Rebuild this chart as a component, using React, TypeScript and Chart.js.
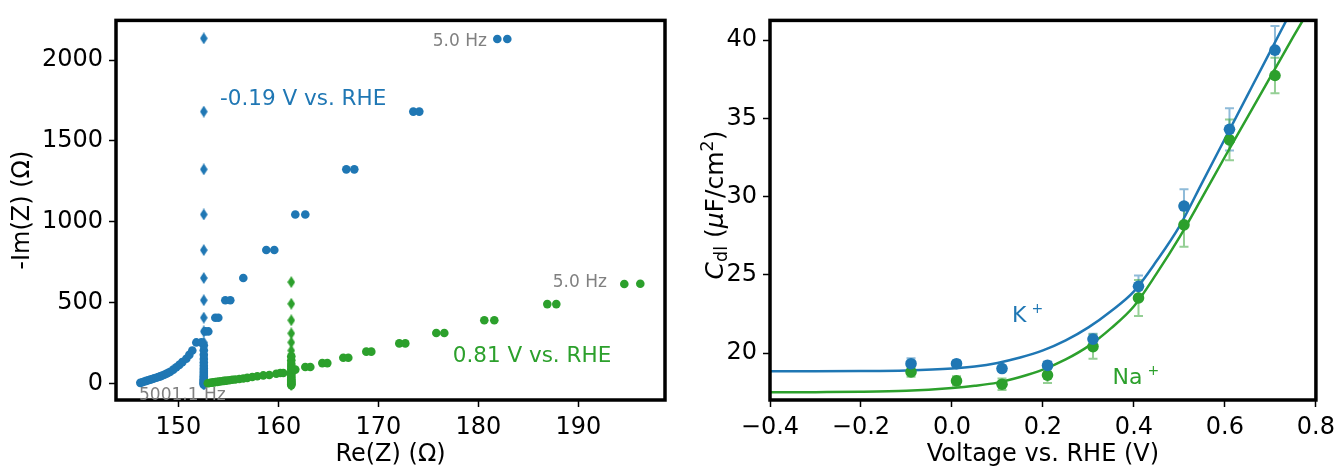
import { useEffect, useRef } from "react"
import { Chart, registerables } from "chart.js"

Chart.register(...registerables)

const BLUE = "#1f77b4"
const GREEN = "#2ca02c"
const GRAY = "#808080"
const FONT = "'DejaVu Sans', sans-serif"

// Nyquist data at -0.19 V vs. RHE
const blueRe = [146.2, 146.4, 146.6, 146.8, 147.0, 147.2, 147.4, 147.6, 147.8, 148.0, 148.2, 148.4, 148.6, 148.8, 149.0, 149.2, 149.5, 149.8, 150.1, 150.4, 150.8, 151.1, 151.4, 151.8, 152.3, 152.7, 153.0, 153.7, 154.0, 154.7, 155.2, 156.5, 158.8, 159.6, 161.7, 162.7, 166.8, 167.6, 173.5, 174.1, 181.9, 182.9]
const blueIm = [4, 8, 12, 16, 20, 24, 28, 32, 36, 40, 44, 49, 54, 60, 66, 73, 86, 100, 115, 132, 153, 177, 204, 254, 254, 322, 322, 407, 407, 515, 515, 652, 825, 825, 1045, 1045, 1324, 1324, 1681, 1681, 2130, 2130]
const blueColRe = 152.55
const blueColIm = [-8, -3, 2, 7, 13, 19, 26, 34, 43, 53, 65, 78, 93, 110, 130, 152, 178, 206, 236]
const blueDiaIm = [2134, 1681, 1324, 1045, 825, 652, 515, 407, 322, 254, 204, 163, 130, 104, 83, 66, 52, 40, 30, 21, 13, 6, 0, -6]

// Nyquist data at 0.81 V vs. RHE
const greenRe = [152.95, 153.1, 153.25, 153.4, 153.55, 153.7, 153.9, 154.1, 154.3, 154.55, 154.8, 155.1, 155.4, 155.7, 156.1, 156.5, 156.9, 157.4, 157.9, 158.5, 159.1, 159.8, 160.2, 160.5, 161.7, 162.7, 163.2, 164.4, 164.9, 166.5, 167.0, 168.8, 169.3, 172.1, 172.7, 175.8, 176.6, 180.6, 181.6, 186.9, 187.8, 194.6, 196.2]
const greenIm = [2, 3, 5, 6, 7, 9, 10, 12, 14, 16, 18, 20, 23, 25, 28, 31, 35, 40, 45, 50, 53, 60, 65, 65, 86, 102, 102, 126, 126, 159, 159, 197, 197, 248, 248, 312, 312, 391, 391, 491, 491, 615, 617]
const greenColRe = 161.3
const greenColIm = [-10, -5, 0, 6, 12, 19, 27, 36, 46, 57, 70, 85, 102, 121, 143, 168]
const greenDiaIm = [627, 493, 391, 310, 254, 204, 165, 135, 110, 90, 73, 58, 46, 35, 26, 18, 11, 5, 0, -5, -10]

const reTicks = [150, 160, 170, 180, 190]
const imTicks = [0, 500, 1000, 1500, 2000]

// double layer capacitance vs voltage
const voltages = [-0.09, 0.01, 0.11, 0.21, 0.31, 0.41, 0.51, 0.61, 0.71]
const cdlK = [19.33, 19.33, 19.02, 19.22, 20.9, 24.27, 29.4, 34.3, 39.36]
const errK = [0.35, 0.2, 0.15, 0.25, 0.35, 0.7, 1.08, 1.35, 1.55]
const cdlNa = [18.8, 18.23, 18.02, 18.6, 20.42, 23.53, 28.2, 33.63, 37.74]
const errNa = [0.3, 0.3, 0.37, 0.5, 0.77, 1.15, 1.4, 1.3, 1.13]

const fitV = [-0.4, -0.3, -0.2, -0.1, 0.0, 0.05, 0.1, 0.15, 0.2, 0.25, 0.3, 0.35, 0.4, 0.45, 0.5, 0.55, 0.6, 0.65, 0.7, 0.75, 0.78]
const fitK = [18.85, 18.85, 18.86, 18.9, 19.02, 19.15, 19.38, 19.72, 20.18, 20.82, 21.65, 22.7, 23.95, 25.9, 28.1, 30.9, 33.7, 36.5, 39.3, 42.1, 43.8]
const fitNa = [17.5, 17.51, 17.53, 17.6, 17.78, 17.92, 18.12, 18.48, 18.95, 19.6, 20.45, 21.6, 23.0, 25.1, 27.4, 29.95, 32.55, 35.1, 37.65, 40.2, 41.7]

const vTicks = [-0.4, -0.2, 0.0, 0.2, 0.4, 0.6, 0.8]
const cTicks = [20, 25, 30, 35, 40]

const zip = (xs: number[], ys: number[]) => xs.map((x, i) => ({ x, y: ys[i] }))
const column = (x: number, ys: number[]) => ys.map((y) => ({ x, y }))

function diamond(color: string) {
  const c = document.createElement("canvas")
  c.width = 8
  c.height = 12
  const g = c.getContext("2d")!
  g.fillStyle = color
  g.beginPath()
  g.moveTo(4, 0)
  g.lineTo(7.8, 6)
  g.lineTo(4, 12)
  g.lineTo(0.2, 6)
  g.closePath()
  g.fill()
  return c
}

type Seg = { t: string; size: number; italic?: boolean; dx?: number; dy?: number }

function fontOf(s: Seg) {
  return `${s.italic ? "italic " : ""}${s.size}px ${FONT}`
}

// draws mixed text (sub/superscripts) on a baseline
function drawSegs(ctx: CanvasRenderingContext2D, segs: Seg[], x0: number, y0: number, center: boolean) {
  let total = 0
  for (const s of segs) {
    ctx.font = fontOf(s)
    total += ctx.measureText(s.t).width + (s.dx || 0)
  }
  let x = center ? x0 - total / 2 : x0
  ctx.textAlign = "left"
  ctx.textBaseline = "alphabetic"
  for (const s of segs) {
    ctx.font = fontOf(s)
    x += s.dx || 0
    ctx.fillText(s.t, x, y0 + (s.dy || 0))
    x += ctx.measureText(s.t).width
  }
}

function axisStyle(tickList: number[], min: number, max: number, size: number, horizontal: boolean, fmt: (v: number) => string) {
  return {
    type: "linear" as const,
    min,
    max,
    afterBuildTicks: (s: any) => {
      s.ticks = tickList.map((v) => ({ value: v }))
    },
    afterFit: (s: any) => {
      if (horizontal) s.height = size
      else s.width = size
    },
    border: { display: false },
    grid: {
      drawOnChartArea: false,
      drawTicks: true,
      tickLength: 7,
      tickWidth: 1.5,
      tickColor: "#000",
    },
    ticks: {
      color: "#000",
      font: { family: FONT, size: 24 },
      padding: horizontal ? 6 : 6,
      maxRotation: 0,
      autoSkip: false,
      callback: (v: any) => fmt(Number(v)),
    },
  }
}

function frame(ctx: CanvasRenderingContext2D, chart: any) {
  const a = chart.chartArea
  ctx.save()
  ctx.strokeStyle = "#000"
  ctx.lineWidth = 3.5
  ctx.strokeRect(a.left, a.top, a.right - a.left, a.bottom - a.top)
  ctx.restore()
}

const nyquistDecor = {
  id: "nyquistDecor",
  afterDraw(chart: any) {
    const ctx = chart.ctx as CanvasRenderingContext2D
    const { x, y } = chart.scales
    const a = chart.chartArea
    frame(ctx, chart)
    ctx.save()
    const notes = [
      { t: "-0.19 V vs. RHE", re: 154.17, im: 1719, c: BLUE, s: 21.5 },
      { t: "0.81 V vs. RHE", re: 177.44, im: 136, c: GREEN, s: 21.5 },
      { t: "5.0 Hz", re: 175.44, im: 2088, c: GRAY, s: 17 },
      { t: "5.0 Hz", re: 187.44, im: 595, c: GRAY, s: 17 },
      { t: "5001.1 Hz", re: 146.07, im: -102, c: GRAY, s: 17 },
    ]
    for (const n of notes) {
      ctx.fillStyle = n.c
      drawSegs(ctx, [{ t: n.t, size: n.s }], x.getPixelForValue(n.re), y.getPixelForValue(n.im), false)
    }
    ctx.fillStyle = "#000"
    drawSegs(ctx, [{ t: "Re(Z) (Ω)", size: 24 }], (a.left + a.right) / 2, 461, true)
    ctx.translate(29, (a.top + a.bottom) / 2)
    ctx.rotate(-Math.PI / 2)
    drawSegs(ctx, [{ t: "-Im(Z) (Ω)", size: 24 }], 0, 0, true)
    ctx.restore()
  },
}

const errorBars = {
  id: "errorBars",
  beforeDatasetsDraw(chart: any) {
    const ctx = chart.ctx as CanvasRenderingContext2D
    const { x, y } = chart.scales
    const sets = [
      { ys: cdlK, err: errK, c: "rgba(31,119,180,0.5)" },
      { ys: cdlNa, err: errNa, c: "rgba(44,160,44,0.5)" },
    ]
    ctx.save()
    ctx.lineWidth = 2
    for (const s of sets) {
      ctx.strokeStyle = s.c
      voltages.forEach((v, i) => {
        const px = x.getPixelForValue(v)
        const lo = y.getPixelForValue(s.ys[i] - s.err[i])
        const hi = y.getPixelForValue(s.ys[i] + s.err[i])
        ctx.beginPath()
        ctx.moveTo(px, lo)
        ctx.lineTo(px, hi)
        ctx.moveTo(px - 4.5, lo)
        ctx.lineTo(px + 4.5, lo)
        ctx.moveTo(px - 4.5, hi)
        ctx.lineTo(px + 4.5, hi)
        ctx.stroke()
      })
    }
    ctx.restore()
  },
}

const cdlDecor = {
  id: "cdlDecor",
  afterDraw(chart: any) {
    const ctx = chart.ctx as CanvasRenderingContext2D
    const { x, y } = chart.scales
    const a = chart.chartArea
    frame(ctx, chart)
    ctx.save()
    ctx.fillStyle = BLUE
    drawSegs(ctx, [{ t: "K", size: 22 }, { t: "+", size: 14, dx: 5, dy: -9 }], x.getPixelForValue(0.132), y.getPixelForValue(22.02), false)
    ctx.fillStyle = GREEN
    drawSegs(ctx, [{ t: "Na", size: 22 }, { t: "+", size: 14, dx: 5, dy: -9 }], x.getPixelForValue(0.353), y.getPixelForValue(18.02), false)
    ctx.fillStyle = "#000"
    drawSegs(ctx, [{ t: "Voltage vs. RHE (V)", size: 24 }], (a.left + a.right) / 2, 461, true)
    ctx.translate(43, 205)
    ctx.rotate(-Math.PI / 2)
    drawSegs(
      ctx,
      [
        { t: "C", size: 25, italic: true },
        { t: "dl", size: 17.5, dy: 4 },
        { t: " (", size: 25 },
        { t: "μ", size: 25, italic: true },
        { t: "F/cm", size: 25 },
        { t: "2", size: 17.5, dy: -10 },
        { t: ")", size: 25 },
      ],
      0,
      0,
      true
    )
    ctx.restore()
  },
}

const dots = (color: string, r: number) => ({
  backgroundColor: color,
  borderColor: color,
  borderWidth: 0,
  pointRadius: r,
  showLine: false,
})

export default function App() {
  const leftRef = useRef<HTMLCanvasElement>(null)
  const rightRef = useRef<HTMLCanvasElement>(null)

  useEffect(() => {
    if (!leftRef.current || !rightRef.current) return
    const blueDia = diamond(BLUE)
    const greenDia = diamond(GREEN)

    const left = new Chart(leftRef.current, {
      type: "scatter",
      data: {
        datasets: [
          { data: zip(greenRe, greenIm), ...dots(GREEN, 4.3) },
          { data: column(greenColRe, greenColIm), ...dots(GREEN, 4.3) },
          { data: column(greenColRe, greenDiaIm), pointStyle: greenDia, pointRadius: 5, showLine: false },
          { data: zip(blueRe, blueIm), ...dots(BLUE, 4.3) },
          { data: column(blueColRe, blueColIm), ...dots(BLUE, 4.3) },
          { data: column(blueColRe, blueDiaIm), pointStyle: blueDia, pointRadius: 5, showLine: false },
        ] as any,
      },
      options: {
        animation: false,
        responsive: false,
        layout: { padding: { left: 0, top: 16, right: 15, bottom: 0 } },
        plugins: { legend: { display: false }, tooltip: { enabled: false } },
        scales: {
          x: axisStyle(reTicks, 143.77, 198.67, 66, true, (v) => String(v)),
          y: axisStyle(imTicks, -102, 2245, 116, false, (v) => String(v)),
        } as any,
      },
      plugins: [nyquistDecor],
    })

    const fmtV = (v: number) => (v < 0 ? "\u2212" : "") + Math.abs(v).toFixed(1)
    const right = new Chart(rightRef.current, {
      type: "scatter",
      data: {
        datasets: [
          { data: zip(voltages, cdlK), ...dots(BLUE, 5.8) },
          { data: zip(voltages, cdlNa), ...dots(GREEN, 5.8) },
          { data: zip(fitV, fitK), showLine: true, pointRadius: 0, borderColor: BLUE, borderWidth: 2.5, cubicInterpolationMode: "monotone" },
          { data: zip(fitV, fitNa), showLine: true, pointRadius: 0, borderColor: GREEN, borderWidth: 2.5, cubicInterpolationMode: "monotone" },
        ] as any,
      },
      options: {
        animation: false,
        responsive: false,
        layout: { padding: { left: 0, top: 16, right: 23, bottom: 0 } },
        plugins: { legend: { display: false }, tooltip: { enabled: false } },
        scales: {
          x: axisStyle(vTicks, -0.4, 0.8, 66, true, fmtV),
          y: axisStyle(cTicks, 17.01, 41.26, 90, false, (v) => String(v)),
        } as any,
      },
      plugins: [errorBars, cdlDecor],
    })

    return () => {
      left.destroy()
      right.destroy()
    }
  }, [])

  return (
    <div style={{ position: "absolute", left: 0, top: 0, width: 1341, height: 466, background: "#fff" }}>
      <canvas ref={leftRef} width={680} height={466} style={{ position: "absolute", left: 0, top: 0 }} />
      <canvas ref={rightRef} width={661} height={466} style={{ position: "absolute", left: 680, top: 0 }} />
    </div>
  )
}
